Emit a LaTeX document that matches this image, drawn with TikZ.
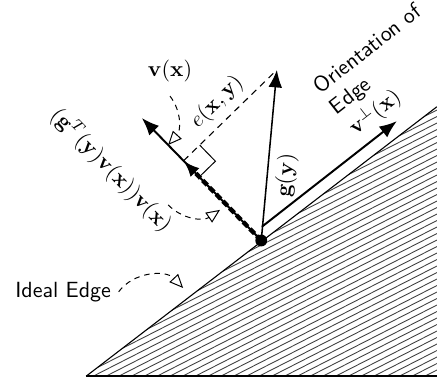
\documentclass[tikz,border=0pt]{standalone}
\usepackage{amsmath,amssymb}
\usepackage{xcolor}
\usepackage{tikz}
\usetikzlibrary{arrows.meta,calc}
\tikzset{
  vec/.style    ={-{Latex[length=2.8mm,width=2.2mm]},line width=0.9pt},
  gvec/.style   ={-{Latex[length=2.8mm,width=2.2mm]},line width=0.7pt},
  proj/.style   ={-{Latex[length=2.6mm,width=2mm]},line width=2pt,dash pattern=on 3pt off 1.4pt},
  err/.style    ={line width=0.5pt,dash pattern=on 3pt off 2.4pt},
  callout/.style={-{Triangle[open,length=2.2mm,width=1.9mm]},line width=0.45pt,dash pattern=on 2.5pt off 2.2pt},
  hatch/.style  ={black!75,line width=0.4pt},
  txt/.style    ={font=\sffamily},
}

\begin{document}
\begin{tikzpicture}
  \useasboundingbox (0,0) rectangle (6.992,6.128);
  % half plane with the edge
  \coordinate (A) at (1.38,0.11);
  \coordinate (B) at (6.99,4.42);
  \coordinate (C) at (6.99,0.11);
  \begin{scope}
    \clip (A) -- (B) -- (C) -- cycle;
    \foreach \c in {-2.9,-2.796,...,1.7}
      \draw[hatch] (1.3,\c) -- ++(27:7);
  \end{scope}
  \draw[line width=0.5pt] (A) -- (B);
  \draw[line width=0.6pt] (A) -- (C);
  % vectors
  \coordinate (O) at (4.18,2.28);
  \coordinate (V) at (2.27,4.24);
  \coordinate (G) at (4.43,5.01);
  \coordinate (vp0) at (4.19,2.50);
  \coordinate (vp1) at (6.35,4.19);
  \coordinate (P) at ($(O)!(G)!(V)$);
  \draw[vec] (O) -- (V);
  \draw[proj] (O) -- (P);
  \draw[err] (P) -- node[pos=.5,above,sloped]{$e(\mathbf{x},\mathbf{y})$} (G);
  \coordinate (ra1) at ($(P)!3.6mm!(G)$);
  \coordinate (ra2) at ($(P)!3.6mm!(O)$);
  \draw[line width=0.45pt] (ra1) -- ($(ra1)+(ra2)-(P)$) -- (ra2);
  \draw[gvec] (O) -- node[pos=.39,below,sloped]{$\mathbf{g}(\mathbf{y})$} (G);
  \draw[vec] (vp0) -- node[pos=.93,above,sloped]{$\mathbf{v}^{\perp}(\mathbf{x})$} (vp1);
  \fill (O) circle (0.095);
  % labels
  \node (vxlab) at (2.72,4.99) {$\mathbf{v}(\mathbf{x})$};
  \node[rotate=-45.7] (projlab) at (1.78,3.41)
    {$(\mathbf{g}^T(\mathbf{y})\mathbf{v}(\mathbf{x}))\mathbf{v}(\mathbf{x})$};
  \node[txt,rotate=38,align=left] (orilab) at (6.02,5.16) {Orientation of\\Edge};
  \node[txt] (edgelab) at (1.01,1.46) {Ideal Edge};
  % callouts
  \coordinate (vxtip) at ($(O)!0.78!(V)$);
  \coordinate (projsrc) at (2.69,2.85);
  \coordinate (projtip) at (3.52,2.77);
  \coordinate (edgetip) at (2.93,1.52);
  \draw[callout] ([yshift=-1mm]vxlab.south) to[bend left=40] (vxtip);
  \draw[callout] (projsrc) to[bend right=40] (projtip);
  \draw[callout] (edgelab.east) to[bend left=50] (edgetip);
\end{tikzpicture}
\end{document}
